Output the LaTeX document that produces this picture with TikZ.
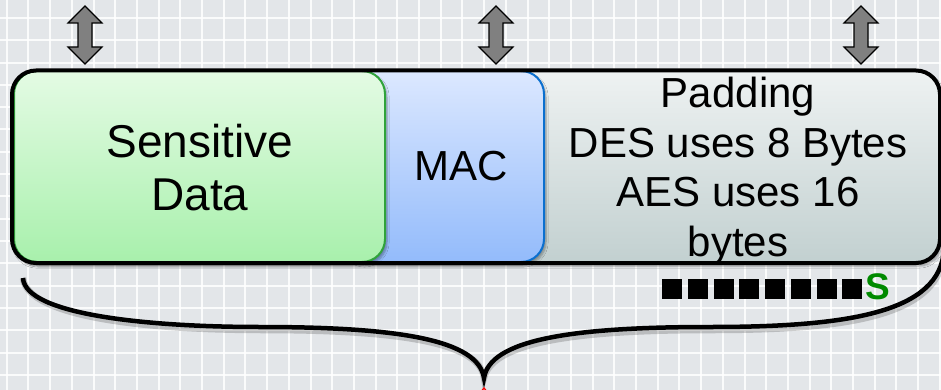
\documentclass[tikz,border=0pt]{standalone}
\usepackage{fontspec}
\setmainfont{Liberation Sans}
\usetikzlibrary{shadows.blur}
\definecolor{bggrid}{HTML}{E3E6E9}
\definecolor{arrowgray}{HTML}{808080}
\definecolor{padtop}{HTML}{EEF2F2}
\definecolor{padbot}{HTML}{C2D0D0}
\definecolor{mactop}{HTML}{DCE8FF}
\definecolor{macbot}{HTML}{93BBFB}
\definecolor{macline}{HTML}{0A6FCF}
\definecolor{senstop}{HTML}{E4FBE4}
\definecolor{sensbot}{HTML}{A8F0AC}
\definecolor{sensline}{HTML}{2FA33A}
\definecolor{sgreen}{HTML}{008A00}
\newfontface\sboldface{Liberation Sans Bold}
\tikzset{
  updown/.pic={
    \filldraw[fill=arrowgray, draw=black, line width=1.2pt, line join=miter]
      (0,-29) -- (17,-12) -- (7,-12) -- (7,12) -- (17,12) -- (0,29)
      -- (-17,12) -- (-7,12) -- (-7,-12) -- (-17,-12) -- cycle;
  },
  boxbase/.style={rectangle, inner sep=0pt, outer sep=0pt, rounded corners=23pt,
    blur shadow={shadow xshift=2pt, shadow yshift=-3pt, shadow blur steps=6, shadow opacity=35}},
  padbox/.style={boxbase, top color=padtop, bottom color=padbot, draw=none},
  macbox/.style={boxbase, top color=mactop, bottom color=macbot, draw=macline, line width=2pt},
  sensbox/.style={boxbase, top color=senstop, bottom color=sensbot, draw=sensline, line width=2pt},
  bigtext/.style={font={\fontsize{46}{53}\selectfont}, align=center, text=black, inner sep=0pt},
  midtext/.style={font={\fontsize{42}{49.5}\selectfont}, align=center, text=black, inner sep=0pt},
  stextstyle/.style={font={\fontsize{37}{44}\sboldface}, text=sgreen, anchor=base, inner sep=0pt},
  padsq/.style={fill=black},
  bracestyle/.style={line width=4.5pt},
}
\begin{document}
\begin{tikzpicture}[x=1pt,y=-1pt]
\useasboundingbox (0,0) rectangle (941,390);
% background grid
\fill[bggrid] (0,0) rectangle (941,390);
\foreach \i in {0,...,43} \draw[white, line width=2pt, opacity=0.85] (6.7+21.7*\i,0) -- (6.7+21.7*\i,390);
\foreach \j in {0,...,18} \draw[white, line width=2pt, opacity=0.85] (0,-4.3+22.3*\j) -- (941,-4.3+22.3*\j);
% double arrows
\pic at (85,35) {updown};
\pic at (496,35) {updown};
\pic at (861,35) {updown};
% boxes
\node[padbox, minimum width=928pt, minimum height=192.5pt] (pad) at (476,166.75) {};
\node[macbox, minimum width=204pt, minimum height=191pt] (mac) at (442,166.5) {};
\node[sensbox, minimum width=371pt, minimum height=191pt] (sens) at (199.5,166.5) {};
\draw[line width=4pt, rounded corners=24pt] (pad.north west) rectangle (pad.south east);
% texts
\node[bigtext] (senstext) at (200,167.5) {Sensitive\\Data};
\node[midtext] (mactext) at (461,166) {MAC};
\node[midtext] (padtext) at (738,171) {Padding\\DES uses 8 Bytes\\AES uses 16\\bytes};
% padding squares and S
\foreach \k in {0,...,7} \fill[padsq] (662+25.75*\k,279) rectangle (682+25.75*\k,299);
\node[stextstyle] (stext) at (878,299) {S};
% brace
\coordinate (bl) at (23,278);
\coordinate (bt) at (484,378);
\coordinate (br) at (944,250);
\draw[bracestyle, black, opacity=0.18, line width=6.5pt, shift={(2,3)}]
  (bl) .. controls (25,315) and (150,327) .. (260,327)
  .. controls (400,327) and (478,340) .. (bt)
  .. controls (490,340) and (570,327) .. (710,327)
  .. controls (850,327) and (940,312) .. (br);
\draw[bracestyle]
  (bl) .. controls (25,315) and (150,327) .. (260,327)
  .. controls (400,327) and (478,340) .. (bt)
  .. controls (490,340) and (570,327) .. (710,327)
  .. controls (850,327) and (940,312) .. (br);
% red mark under brace tip
\coordinate (rm) at (484,397);
\draw[red, line width=1.3pt] ([xshift=-8pt,yshift=-1pt]rm) -- ([yshift=9pt]rm) -- ([xshift=8pt,yshift=-1pt]rm);
\end{tikzpicture}
\end{document}
